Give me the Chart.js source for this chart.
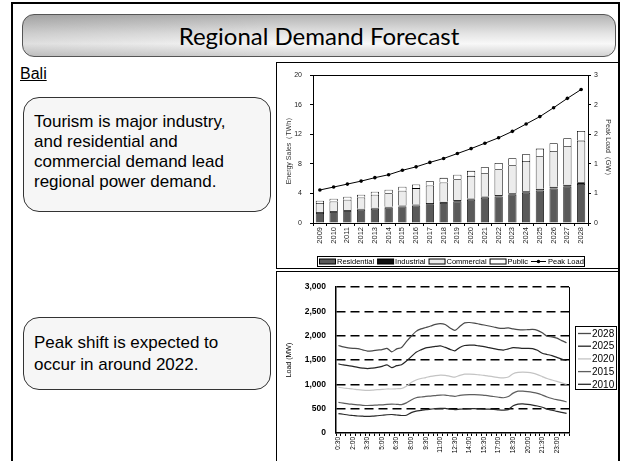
<!DOCTYPE html>
<html>
<head>
<meta charset="utf-8">
<script src="https://cdn.jsdelivr.net/npm/chart.js@4.4.1/dist/chart.umd.min.js"></script>
<style>
  html, body { margin: 0; padding: 0; background: #fff; }
  body { width: 622px; height: 461px; position: relative; overflow: hidden; font-family: "Liberation Sans", Arial, sans-serif; }
  .frame { position: absolute; left: 11px; top: 2px; width: 605px; height: 480px; border: 2px solid #000; border-bottom: none; }
  .titlebox { position: absolute; left: 22px; top: 14px; width: 592px; height: 41px; border: 1px solid #555; border-radius: 12px;
    background: linear-gradient(to right, rgba(0,0,0,0.10), rgba(0,0,0,0) 45%),
                linear-gradient(to bottom, #b4b4b4 0%, #e4e4e4 45%, #f8f8f8 70%, #d2d2d2 100%);
    text-align: center; line-height: 41px; font-family: Lato, "Open Sans", sans-serif; font-size: 24px; color: #000; }
  .bali { position: absolute; left: 20px; top: 65px; font-size: 16px; text-decoration: underline; }
  .note { position: absolute; left: 23px; width: 226px; padding: 0 10px; background: #f6f6f6; border: 1px solid #333; border-radius: 16px;
    font-size: 17px; line-height: 20px; color: #000; box-sizing: content-box; white-space: nowrap; }
  .chartbox { position: absolute; left: 276px; width: 341px; border: 1px solid #000; }
  canvas { position: absolute; left: 0; top: 0; }
</style>
</head>
<body>
<div class="frame"></div>
<div class="titlebox">Regional Demand Forecast</div>
<div class="bali">Bali</div>
<div class="note" style="top:97px;height:113px;"><div style="padding-top:14px;">Tourism is major industry,<br>and residential and<br>commercial demand lead<br>regional power demand.</div></div>
<div class="note" style="top:317px;height:71px;line-height:22px;"><div style="padding-top:14px;">Peak shift is expected to<br>occur in around 2022.</div></div>
<div class="chartbox" style="top:62px;height:205px;"><canvas id="salesChart" width="341" height="205"></canvas></div>
<div class="chartbox" style="top:271px;height:200px;"><canvas id="loadChart" width="341" height="189"></canvas></div>

<script>
// energy sales by sector (TWh) and peak load (GW), Bali
const years = ['2009', '2010', '2011', '2012', '2013', '2014', '2015', '2016', '2017', '2018',
               '2019', '2020', '2021', '2022', '2023', '2024', '2025', '2026', '2027', '2028'];
const residential = [1.36, 1.50, 1.62, 1.80, 1.94, 2.06, 2.24, 2.37, 2.54, 2.72,
                     2.93, 3.15, 3.41, 3.58, 3.83, 4.09, 4.40, 4.66, 4.92, 5.27];
const industrial = [0.12, 0.12, 0.13, 0.13, 0.13, 0.14, 0.14, 0.15, 0.16, 0.16,
                    0.17, 0.18, 0.19, 0.20, 0.21, 0.22, 0.23, 0.24, 0.25, 0.26];
const commercial = [1.22, 1.30, 1.40, 1.53, 1.75, 1.84, 1.98, 2.20, 2.38, 2.60,
                    2.83, 3.05, 3.14, 3.50, 3.78, 4.09, 4.40, 4.85, 5.26, 5.62];
const publicSales = [0.31, 0.36, 0.40, 0.36, 0.40, 0.45, 0.54, 0.49, 0.58, 0.63,
                     0.59, 0.68, 0.81, 0.85, 0.94, 0.90, 1.04, 1.04, 1.03, 1.30];
const peakLoad = [0.67, 0.73, 0.79, 0.85, 0.92, 0.98, 1.07, 1.14, 1.23, 1.31,
                  1.41, 1.51, 1.62, 1.73, 1.86, 2.01, 2.16, 2.34, 2.53, 2.71];
const salesTicks = [0, 4, 8, 12, 16, 20];
const peakTicks = [0, 0.6, 1.2, 1.8, 2.4, 3];

// daily load curves (MW), half-hourly
const timeLabels = ['0:30', '1:00', '1:30', '2:00', '2:30', '3:00', '3:30', '4:00', '4:30', '5:00', '5:30', '6:00',
                    '6:30', '7:00', '7:30', '8:00', '8:30', '9:00', '9:30', '10:00', '10:30', '11:00', '11:30', '12:00',
                    '12:30', '13:00', '13:30', '14:00', '14:30', '15:00', '15:30', '16:00', '16:30', '17:00', '17:30', '18:00',
                    '18:30', '19:00', '19:30', '20:00', '20:30', '21:00', '21:30', '22:00', '22:30', '23:00', '23:30', '24:00'];
const load2028 = [1800, 1770, 1750, 1740, 1735, 1710, 1685, 1690, 1705, 1715, 1740, 1670,
                  1730, 1760, 1880, 1990, 2090, 2140, 2170, 2200, 2235, 2250, 2230, 2160,
                  2110, 2190, 2265, 2272, 2260, 2240, 2220, 2200, 2180, 2155, 2150, 2160,
                  2140, 2125, 2120, 2125, 2130, 2110, 2060, 1990, 1975, 1950, 1900, 1855];
const load2025 = [1420, 1400, 1385, 1370, 1350, 1335, 1325, 1335, 1350, 1370, 1400, 1345,
                  1385, 1405, 1480, 1570, 1660, 1710, 1750, 1765, 1780, 1790, 1760, 1720,
                  1690, 1760, 1800, 1808, 1805, 1790, 1775, 1755, 1735, 1715, 1705, 1730,
                  1755, 1750, 1740, 1740, 1735, 1700, 1640, 1615, 1590, 1555, 1520, 1490];
const load2020 = [940, 925, 915, 905, 890, 880, 875, 880, 890, 895, 905, 905,
                  910, 915, 960, 1040, 1090, 1120, 1140, 1165, 1180, 1190, 1185, 1165,
                  1150, 1185, 1210, 1210, 1205, 1195, 1185, 1170, 1155, 1140, 1135, 1150,
                  1220, 1245, 1250, 1245, 1230, 1200, 1160, 1120, 1090, 1060, 1030, 1000];
const load2015 = [630, 615, 600, 590, 580, 570, 565, 570, 575, 580, 590, 595,
                  590, 585, 620, 680, 725, 740, 755, 760, 770, 780, 780, 765,
                  755, 775, 785, 790, 790, 785, 775, 765, 750, 735, 725, 750,
                  820, 860, 860, 850, 835, 815, 780, 740, 710, 685, 665, 640];
const load2010 = [400, 385, 370, 360, 350, 345, 340, 345, 355, 365, 375, 380,
                  370, 360, 365, 420, 450, 465, 480, 490, 500, 505, 505, 490,
                  480, 490, 495, 500, 500, 495, 490, 490, 485, 475, 470, 480,
                  560, 595, 600, 590, 575, 555, 530, 490, 470, 445, 425, 405];
const loadTicks = [0, 500, 1000, 1500, 2000, 2500, 3000];

const FONT = '"Liberation Sans", Arial, sans-serif';
Chart.defaults.font.family = FONT;
Chart.defaults.color = '#000';

const plotFrame = {
    id: 'plotFrame',
    afterDraw(chart, args, opts) {
        const a = chart.chartArea;
        const ctx = chart.ctx;
        ctx.save();
        ctx.strokeStyle = '#000';
        ctx.lineWidth = 1;
        ctx.beginPath();
        if (opts.full) {
            ctx.rect(Math.round(a.left) + 0.5, Math.round(a.top) + 0.5, Math.round(a.width), Math.round(a.height));
        } else {
            ctx.moveTo(Math.round(a.right) + 0.5, a.top);
            ctx.lineTo(Math.round(a.right) + 0.5, a.bottom);
        }
        ctx.stroke();
        ctx.restore();
    }
};

const salesLegend = {
    id: 'salesLegend',
    afterDraw(chart) {
        const ctx = chart.ctx;
        ctx.save();
        ctx.strokeStyle = '#000';
        ctx.lineWidth = 1;
        ctx.strokeRect(40.5, 193.5, 267, 10);
        ctx.font = '7.5px ' + FONT;
        ctx.textBaseline = 'middle';
        let x = 42;
        const y = 198.5;
        chart.data.datasets.forEach(ds => {
            if (ds.type === 'line') {
                ctx.beginPath();
                ctx.moveTo(x, y);
                ctx.lineTo(x + 15, y);
                ctx.stroke();
                ctx.fillStyle = '#000';
                ctx.beginPath();
                ctx.arc(x + 7.5, y, 1.8, 0, Math.PI * 2);
                ctx.fill();
                x += 17;
            } else {
                ctx.fillStyle = ds.backgroundColor;
                ctx.fillRect(x + 0.5, y - 2.5, 16, 5);
                ctx.strokeRect(x + 0.5, y - 2.5, 16, 5);
                x += 18;
            }
            ctx.fillStyle = '#000';
            ctx.fillText(ds.label, x, y + 0.5);
            x += ctx.measureText(ds.label).width + 3;
        });
        ctx.restore();
    }
};

const loadLegend = {
    id: 'loadLegend',
    afterDraw(chart) {
        const ctx = chart.ctx;
        ctx.save();
        ctx.strokeStyle = '#000';
        ctx.lineWidth = 1;
        ctx.strokeRect(298.5, 54.5, 41, 63);
        ctx.font = '10px ' + FONT;
        ctx.textBaseline = 'middle';
        chart.data.datasets.forEach((ds, i) => {
            const y = 61.5 + i * 12.7;
            ctx.strokeStyle = ds.borderColor;
            ctx.lineWidth = 1.3;
            ctx.beginPath();
            ctx.moveTo(301, y);
            ctx.lineTo(314, y);
            ctx.stroke();
            ctx.fillStyle = '#000';
            ctx.fillText(ds.label, 315, y + 0.5);
        });
        ctx.restore();
    }
};

function barSet(label, data, color) {
    return {type: 'bar', label: label, data: data, backgroundColor: color, borderColor: '#000',
            borderWidth: 0.8, yAxisID: 'y', stack: 'sales', order: 1,
            barPercentage: 0.6, categoryPercentage: 1};
}

new Chart(document.getElementById('salesChart'), {
    data: {
        labels: years,
        datasets: [
            barSet('Residential', residential, '#5a5a5a'),
            barSet('Industrial', industrial, '#111111'),
            barSet('Commercial', commercial, '#ececec'),
            barSet('Public', publicSales, '#ffffff'),
            {type: 'line', label: 'Peak Load', data: peakLoad, yAxisID: 'y1', order: 0,
             borderColor: '#000', borderWidth: 1, pointRadius: 1.8, pointBackgroundColor: '#000',
             pointBorderWidth: 0, tension: 0}
        ]
    },
    options: {
        responsive: false,
        animation: false,
        devicePixelRatio: 1,
        layout: {padding: {top: 12, left: 0, right: 0, bottom: 0}},
        plugins: {legend: {display: false}, tooltip: {enabled: false}, plotFrame: {full: true}},
        scales: {
            x: {
                stacked: true,
                offset: true,
                grid: {offset: true, drawOnChartArea: false, drawTicks: true, tickLength: 3, color: '#000'},
                border: {color: '#000'},
                ticks: {font: {size: 7.5}, color: '#222', minRotation: 90, maxRotation: 90, padding: 1, autoSkip: false},
                afterFit: s => { s.height = 45; }
            },
            y: {
                stacked: true,
                min: 0, max: 20,
                afterBuildTicks: s => { s.ticks = salesTicks.map(v => ({value: v})); },
                grid: {drawOnChartArea: false, drawTicks: true, tickLength: 3, color: '#000'},
                border: {color: '#000'},
                ticks: {font: {size: 7}, color: '#222', padding: 8},
                title: {display: true, text: 'Energy Sales（TWh）', font: {size: 7}, color: '#333', padding: {top: 7.5, bottom: 0}},
                afterFit: s => { s.width = 36; }
            },
            y1: {
                position: 'right',
                min: 0, max: 3,
                afterBuildTicks: s => { s.ticks = peakTicks.map(v => ({value: v})); },
                grid: {drawOnChartArea: false, drawTicks: true, tickLength: 3, color: '#000'},
                border: {color: '#000'},
                ticks: {font: {size: 7}, color: '#222', padding: 3, callback: v => Math.round(v)},
                title: {display: true, text: 'Peak Load（GW）', font: {size: 7}, color: '#333', padding: {top: 5.8, bottom: 0}},
                afterFit: s => { s.width = 30; }
            }
        }
    },
    plugins: [plotFrame, salesLegend]
});

function loadSet(label, data, color) {
    return {label: label, data: data, borderColor: color, backgroundColor: color, borderWidth: 1.2,
            pointRadius: 0, tension: 0.25, fill: false};
}

new Chart(document.getElementById('loadChart'), {
    type: 'line',
    data: {
        labels: timeLabels,
        datasets: [
            loadSet('2028', load2028, '#4a4a4a'),
            loadSet('2025', load2025, '#262626'),
            loadSet('2020', load2020, '#c4c4c4'),
            loadSet('2015', load2015, '#5e5e5e'),
            loadSet('2010', load2010, '#2a2a2a')
        ]
    },
    options: {
        responsive: false,
        animation: false,
        devicePixelRatio: 1,
        layout: {padding: {top: 10, left: 0, right: 49, bottom: 0}},
        plugins: {legend: {display: false}, tooltip: {enabled: false}, plotFrame: {full: false}},
        scales: {
            x: {
                offset: true,
                grid: {offset: true, drawOnChartArea: false, drawTicks: true, tickLength: 3, color: '#000'},
                border: {color: '#000', width: 1.5},
                ticks: {font: {size: 6.5}, color: '#000', minRotation: 90, maxRotation: 90, padding: 1, autoSkip: false,
                        callback: (v, i) => (i % 3 === 0 ? timeLabels[i] : '')},
                afterFit: s => { s.height = 28; }
            },
            y: {
                min: 0, max: 3000,
                afterBuildTicks: s => { s.ticks = loadTicks.map(v => ({value: v})); },
                grid: {drawTicks: false, lineWidth: 1.5, color: c => (c.tick && c.tick.value === 0 ? 'rgba(0,0,0,0)' : '#000')},
                border: {color: '#000', width: 1.5, dash: [9, 5]},
                ticks: {font: {size: 8.5, weight: 'bold'}, color: '#000', padding: 10,
                        callback: v => v.toLocaleString('en-US')},
                title: {display: true, text: 'Load (MW)', font: {size: 7}, color: '#000', padding: {top: 7.8, bottom: 0}},
                afterFit: s => { s.width = 59; }
            }
        }
    },
    plugins: [plotFrame, loadLegend]
});
</script>
</body>
</html>
